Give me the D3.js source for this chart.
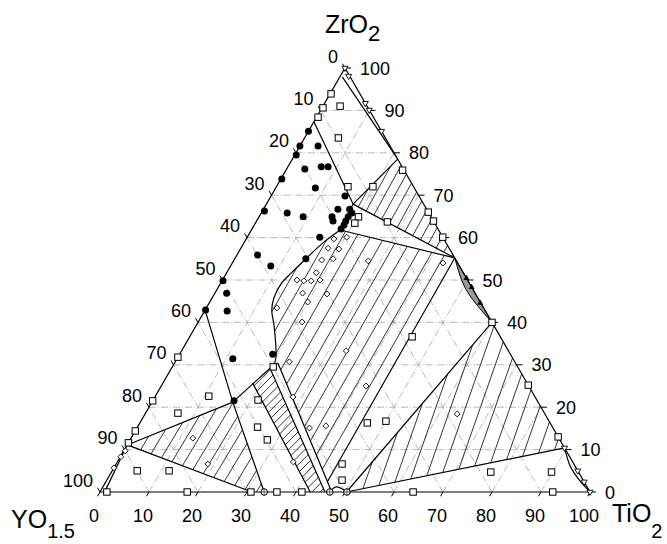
<!DOCTYPE html>
<html><head><meta charset="utf-8">
<script src="https://cdn.jsdelivr.net/npm/d3@7"></script>
<style>
body{margin:0;background:#fff}
svg{display:block}
text{font-family:Arial,"Liberation Sans",Helvetica,sans-serif;fill:#000}
</style></head>
<body><svg id="chart" width="667" height="544"></svg>
<script>
// All compositions are [YO1.5, TiO2, ZrO2] in mol %.
const tickValues = [0,10,20,30,40,50,60,70,80,90,100];
const gridValues = [10,20,30,40,50,60,70,80,90];

// key nodes of the isothermal section
const nA = [0,21.5,78.5], nB = [14.4,17.7,67.9], nC = [0,44.8,55.2], nD = [20.1,18.1,61.8];
const nP = [62.3,16.5,21.2];            // lower corner of the fluorite field
const pyrTopL = [50.7,20.1,29.2], pyrTopR = [48.5,21.1,30.4];
const pyrBotL = [54.1,45.9,0], pyrBotR = [52.7,47.3,0];
const leftNode = [88.9,0,11.1];
const ztTop = [0,60,40];
const ttNode = [0,89.6,10.4];
const pyrTi = [49.7,50.3,0];
const h2Foot = [52.4,45.2,2.4];
const stripTop = [56.0,18.3,25.7];

// fluorite boundary curve below nD
const fluoriteCurve = [nD,[25.2,16.1,58.7],[30.2,14.6,55.2],[34.8,13.3,51.9],[38.5,12.4,49.1],
  [41.6,12.6,45.8],[43.5,13.6,42.9],[44.8,15.8,39.4],[46.6,18.3,35.1],[48.3,20.1,31.6],[49.9,20.6,29.5]];
// ZrTiO4 single phase lens along the ZrO2-TiO2 side
const lensCurve = [nC,[1.2,48.8,50],[1.4,51.8,46.8],[1.0,55,44],ztTop];
// narrow field near the TiO2 corner
const tioCurve = [ttNode,[1,93,6],[0.8,96.3,2.9],[0,100,0]];
// narrow field near the YO1.5 corner
const yoCurve = [[98.6,0.9,0.5],leftNode];
const bottomArc = [[53.1,46.9,0],[51.3,47.6,1.2],[49.6,50.4,0]];

const straightLines = [
  [[1.6,0.5,97.9],[0,21,79]],
  [[12.7,0,87.3],nB],
  [nA,nB],[nB,nC],[nD,nC],[nB,nD],
  [[57.1,0,42.9],nP],[nP,pyrTopL],[nP,[66.5,33.5,0]],
  [stripTop,[57.1,42.9,0]],
  [pyrTopL,pyrBotL],[pyrTopR,pyrBotR],[pyrTopL,pyrTopR],
  [leftNode,nP],[leftNode,[69,31,0]],
  [nC,h2Foot],
  [ztTop,pyrTi],[ttNode,pyrTi]
];

// hatched two-phase fields
const h1 = [nA,nB,nC];
const h2 = [nD,nC,h2Foot,pyrTopR].concat(fluoriteCurve.slice(0,10).reverse().slice(0,9));
const h3 = [stripTop,pyrTopL,pyrBotL,[57.1,42.9,0]];
const h4 = [leftNode,nP,[66.5,33.5,0],[69,31,0]];
const h5 = [ztTop,ttNode,pyrTi];

// sample points
const fluoriteSamples = [[14.9,0,85.1],[18.4,0,81.6],[14.7,3.7,81.6],[20.2,0.3,79.5],[20.1,3.7,76.2],
  [16.5,6.8,76.7],[15.1,8.2,76.7],[26,0.2,73.8],[20.2,8.1,71.7],[15.1,15.1,69.8],[18.1,15.2,66.7],
  [33.3,0.4,66.3],[28.9,5.3,65.8],[26.1,9,64.9],[20.2,14.9,64.9],[20.5,15.6,63.9],[15.7,17.6,66.7],
  [15.7,18.5,65.8],[16.9,18.2,64.9],[17.9,18.2,63.9],[18.7,18.3,63.0],[19.8,18.2,62.0],[25.1,14.8,60.1],
  [39.9,4.2,55.9],[38.5,8.2,53.3],[30.5,14.5,55.0],[50,0.2,49.8],[50.7,2.4,46.9],[57,0.1,42.9],
  [52.7,4.6,42.7],[57.2,11.4,31.4],[48.5,19,32.5],[61.9,16.6,21.5]];
const twoPhaseSamples = [[5.9,0.2,93.9],[9.2,0.2,90.6],[11.3,0.3,88.4],[5.5,3.5,91.0],[9.6,6.9,83.5],
  [13.4,14.6,72.0],[8.3,19.7,72.0],[14.8,20.3,64.9],[16.3,20.3,63.4],[9.5,26.8,63.7],[0.3,23.8,75.9],
  [0,34,66],[0,36.1,63.9],[0,39.9,60.1],[0,60,40],[18,45.4,36.6],[0,74.8,25.2],[0,87,13],
  [17.9,77.4,4.7],[5.5,89.8,4.7],[36.1,63.9,0],[7.6,92.4,0],[37.3,46.4,16.3],[33.3,50,16.7],
  [47.3,46.1,6.6],[49.2,48,2.8],[49.9,20.6,29.5],[56.9,21.4,21.7],[60.2,24.5,15.3],[59.7,28,12.3],
  [66.5,10.9,22.6],[78.5,0,21.5],[74.8,6.6,18.6],[85.6,0,14.4],[88.4,0,11.6],[89.9,5.1,5.0],
  [83.4,11.6,5.0],[98.6,1.4,0],[82.2,17.8,0],[69.2,30.8,0],[63.9,36.1,0],[58.8,41.2,0],[68.2,0,31.8]];
const tieSamples = [[22.4,17.9,59.7],[19.6,20.3,60.1],[24.7,17.8,57.5],[22.6,20.1,57.3],[27.4,17.9,54.7],
  [24.9,20.1,55.0],[30,18.3,51.7],[18,27.5,54.5],[34.8,15.2,50],[33.5,16.7,49.8],[32,18.2,49.8],
  [30.1,19.9,50],[35.2,17.9,46.9],[30.3,23,46.7],[35.2,20,44.8],[42.2,14.4,43.4],[38.7,21.2,40.1],
  [33.1,33.6,33.3],[46,23.3,30.7],[49.4,28.2,22.4],[33.2,41.8,25],[49.7,35.2,15.1],[46.1,38.3,15.6],
  [57,35.9,7.1],[3,43,54],[17.9,63.7,18.4],[74.7,18.7,6.6],[74.7,12.6,12.7],
  [94.3,0,5.7],[91.6,0.1,8.3],[90,0.3,9.7]];
const pyroSamples = [[66.5,33.5,0],[53.1,46.9,0],[49.6,50.4,0]];
const edgeTriangles = [[0,0,100],[0.2,1.7,98.1],[0,8.3,91.7],[0,9.9,90.1],[0,14.9,85.1],
  [0,89.6,10.4],[0,95,5],[0,97.6,2.4],[0,100,0]];
const lensTriangles = [[0,49.6,50.4],[0,51.7,48.3],[0.1,55.3,44.6]];

// projection: horizontal position follows TiO2 + ZrO2/2, height follows ZrO2
const xs = d3.scaleLinear().domain([0,100]).range([100,590]);
const ys = d3.scaleLinear().domain([0,100]).range([492,68]);
const P = c => [xs(c[1] + c[2]/2), ys(c[2])];

const svg = d3.select("#chart");
const line = d3.line();
const curve = d3.line().curve(d3.curveCatmullRom.alpha(0.5));

// grid
const grid = svg.append("g").attr("fill","none").attr("stroke","#a8a8a8")
  .attr("stroke-width",0.8).attr("stroke-dasharray","7,2,1,2");
gridValues.forEach(v => {
  grid.append("path").attr("d", line([P([100-v,0,v]),P([0,100-v,v])]));
  grid.append("path").attr("d", line([P([100-v,v,0]),P([0,v,100-v])]));
  grid.append("path").attr("d", line([P([v,100-v,0]),P([v,0,100-v])]));
});

// hatch helper: parallel lines clipped to a field
const defs = svg.append("defs");
function hatch(poly, dir, gap, id, width){
  const pts = poly.map(P);
  defs.append("clipPath").attr("id",id).append("path").attr("d", line(pts)+"Z");
  const len = Math.hypot(dir[0],dir[1]);
  const d = [dir[0]/len, dir[1]/len], n = [-d[1], d[0]];
  const proj = pts.map(p => p[0]*n[0]+p[1]*n[1]);
  const lo = d3.min(proj), hi = d3.max(proj);
  const g = svg.append("g").attr("clip-path",`url(#${id})`).attr("stroke","#000")
    .attr("stroke-width",width||0.8).attr("fill","none");
  for(let k = Math.ceil(lo/gap); k*gap <= hi; k++){
    const o = [n[0]*k*gap, n[1]*k*gap];
    g.append("path").attr("d", line([[o[0]-d[0]*900,o[1]-d[1]*900],[o[0]+d[0]*900,o[1]+d[1]*900]]));
  }
}
hatch(h1,[-0.55,1],8.8,"h1");
hatch(h2,[-0.57,1],12.2,"h2");
hatch(h3,[-1,1],5.8,"h3");
hatch(h4,[-0.6,1],11,"h4");
hatch(h5,[-0.35,1],14,"h5");

// ZrTiO4 lens
svg.append("path").attr("d", curve(lensCurve.map(P)) + "Z")
  .attr("fill","#9a9a9a").attr("stroke","#000").attr("stroke-width",1);

// boundaries
const bnd = svg.append("g").attr("fill","none").attr("stroke","#000").attr("stroke-width",1.2);
straightLines.forEach(s => bnd.append("path").attr("d", line(s.map(P))));
bnd.append("path").attr("d", curve(fluoriteCurve.map(P)));
bnd.append("path").attr("d", curve(tioCurve.map(P)));
bnd.append("path").attr("d", line(yoCurve.map(P)));
bnd.append("path").attr("d", curve(bottomArc.map(P)));
bnd.append("path").attr("d", line([[100,0,0],[0,100,0],[0,0,100]].map(P))+"Z");

// ticks and tick labels
const axes = svg.append("g");
tickValues.forEach(v => {
  const b = P([100-v,v,0]);
  axes.append("line").attr("x1",b[0]).attr("y1",b[1]).attr("x2",b[0]-2.5).attr("y2",b[1]+4.3).attr("stroke","#000");
  axes.append("text").attr("x",b[0]-6).attr("y",b[1]+30).attr("text-anchor","middle")
    .attr("font-size",18).text(v);
  const r = P([0,100-v,v]);
  axes.append("line").attr("x1",r[0]).attr("y1",r[1]).attr("x2",r[0]+6).attr("y2",r[1]).attr("stroke","#000");
  axes.append("text").attr("x",r[0]+15).attr("y",r[1]+6.5).attr("font-size",18).text(v);
  const l = P([v,0,100-v]);
  axes.append("line").attr("x1",l[0]).attr("y1",l[1]).attr("x2",l[0]-2.5).attr("y2",l[1]-4.3).attr("stroke","#000");
  axes.append("text").attr("x",l[0]-7).attr("y",l[1]-5.5).attr("text-anchor","end")
    .attr("font-size",18).text(v);
});

// component labels
const lab = (x,y,main,sub,dy,subSize) => {
  const t = svg.append("text").attr("x",x).attr("y",y).attr("font-size",25);
  t.append("tspan").text(main);
  t.append("tspan").attr("dy",dy).attr("font-size",subSize).text(sub);
};
lab(325,33,"ZrO","2",8,22);
lab(11,528,"YO","1.5",10,20);
lab(612,522,"TiO","2",16,20);

// markers
const mk = svg.append("g");
fluoriteSamples.forEach(c => { const p=P(c);
  mk.append("circle").attr("cx",p[0]).attr("cy",p[1]).attr("r",3.5).attr("fill","#000"); });
twoPhaseSamples.forEach(c => { const p=P(c);
  mk.append("rect").attr("x",p[0]-3.2).attr("y",p[1]-3.2).attr("width",6.4).attr("height",6.4)
    .attr("fill","#fff").attr("stroke","#000").attr("stroke-width",1); });
const diamond = d3.symbol().type(d3.symbolDiamond2).size(22);
tieSamples.forEach(c => { const p=P(c);
  mk.append("path").attr("d",diamond()).attr("transform",`translate(${p[0]},${p[1]})`)
    .attr("fill","#fff").attr("stroke","#000").attr("stroke-width",0.9); });
pyroSamples.forEach(c => { const p=P(c);
  mk.append("circle").attr("cx",p[0]).attr("cy",p[1]).attr("r",3.3)
    .attr("fill","#fff").attr("stroke","#000").attr("stroke-width",1);
  mk.append("path").attr("d",`M${p[0]-3.3},${p[1]}h6.6M${p[0]},${p[1]-3.3}v6.6`).attr("stroke","#000").attr("stroke-width",0.6); });
const tri = d3.symbol().type(d3.symbolTriangle2).size(26);
edgeTriangles.forEach(c => { const p=P(c);
  mk.append("path").attr("d",tri()).attr("transform",`translate(${p[0]},${p[1]}) rotate(180)`)
    .attr("fill","#fff").attr("stroke","#000").attr("stroke-width",0.9); });
lensTriangles.forEach(c => { const p=P(c);
  mk.append("path").attr("d",tri()).attr("transform",`translate(${p[0]},${p[1]})`).attr("fill","#000"); });
</script></body></html>
